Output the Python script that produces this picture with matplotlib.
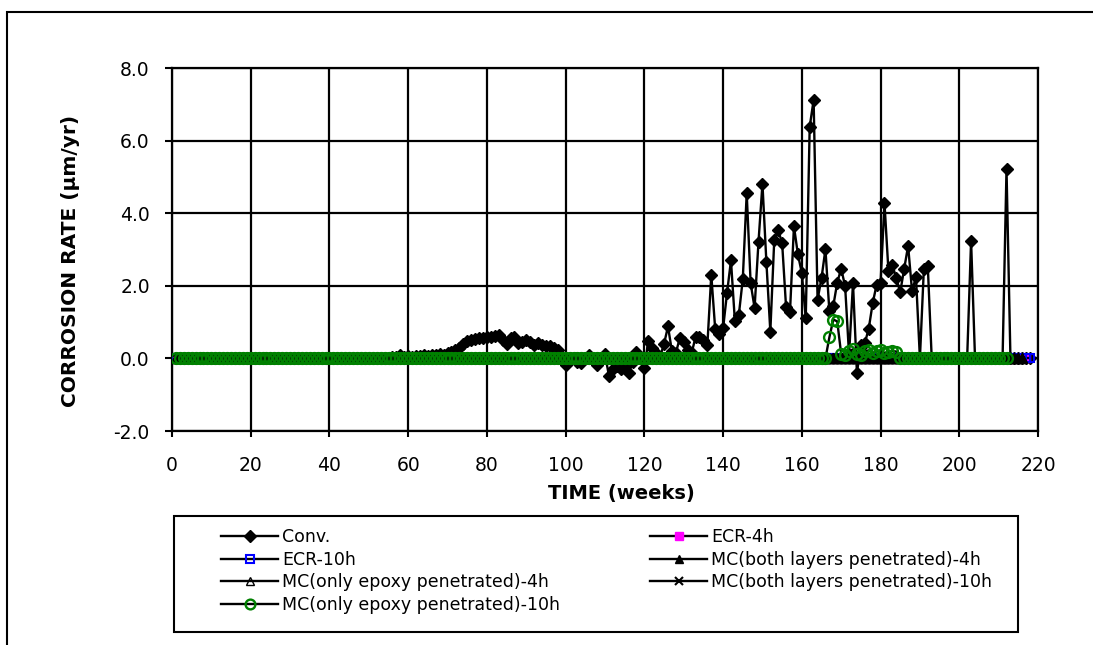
import matplotlib
matplotlib.use("Agg")
import matplotlib.pyplot as plt
from matplotlib.patches import Rectangle

# ---------------- data ----------------
conv_weeks = list(range(1, 219))
conv_rate = [
    # 1-10
    0.00, 0.00, 0.00, 0.00, 0.00, 0.00, 0.00, 0.00, 0.00, 0.00,
    # 11-20
    0.00, 0.00, 0.00, 0.00, 0.01, 0.00, 0.00, 0.00, 0.00, 0.00,
    # 21-30
    0.00, 0.00, 0.00, 0.00, 0.00, 0.00, 0.00, 0.00, 0.00, 0.00,
    # 31-40
    0.00, 0.00, 0.00, 0.00, 0.00, 0.00, 0.00, 0.00, 0.00, 0.00,
    # 41-50
    0.00, 0.00, 0.00, 0.00, 0.00, 0.00, 0.00, 0.00, 0.00, 0.01,
    # 51-60
    0.00, 0.01, 0.00, 0.01, 0.02, 0.03, 0.05, 0.08, 0.05, 0.06,
    # 61-70
    0.05, 0.07, 0.06, 0.08, 0.07, 0.08, 0.10, 0.12, 0.10, 0.14,
    # 71-80
    0.18, 0.22, 0.30, 0.40, 0.47, 0.50, 0.54, 0.56, 0.55, 0.60,
    # 81-90
    0.58, 0.62, 0.65, 0.50, 0.40, 0.55, 0.60, 0.42, 0.45, 0.52,
    # 91-100
    0.45, 0.38, 0.42, 0.38, 0.35, 0.33, 0.30, 0.24, -0.05, -0.17,
    # 101-110
    -0.05, 0.00, -0.10, -0.13, 0.02, 0.10, -0.05, -0.17, 0.00, 0.12,
    # 111-120
    -0.48, -0.30, -0.20, -0.30, -0.25, -0.40, -0.10, 0.19, 0.05, -0.27,
    # 121-130
    0.49, 0.28, 0.15, 0.05, 0.40, 0.88, 0.20, 0.15, 0.56, 0.45,
    # 131-140
    0.24, 0.15, 0.58, 0.60, 0.50, 0.36, 2.30, 0.80, 0.66, 0.83,
    # 141-150
    1.80, 2.70, 1.02, 1.20, 2.18, 4.55, 2.07, 1.39, 3.22, 4.81,
    # 151-160
    2.65, 0.74, 3.27, 3.53, 3.18, 1.41, 1.29, 3.64, 2.87, 2.35,
    # 161-170
    1.10, 6.38, 7.12, 1.62, 2.21, 3.01, 1.30, 1.45, 2.09, 2.47,
    # 171-180
    1.99, 0.10, 2.07, -0.40, 0.38, 0.42, 0.82, 1.52, 2.03, 2.07,
    # 181-190
    4.28, 2.42, 2.58, 2.21, 1.83, 2.47, 3.10, 1.86, 2.24, 0.00,
    # 191-200
    2.46, 2.55, 0.00, 0.00, 0.00, 0.00, 0.00, 0.00, 0.00, 0.00,
    # 201-210
    0.00, 0.00, 3.24, 0.00, 0.00, 0.00, 0.00, 0.00, 0.00, 0.00,
    # 211-218
    0.00, 5.22, 0.00, 0.00, 0.00, 0.00, 0.00, 0.00,
]

ecr4_weeks = list(range(1, 218))
ecr4_rate = [0.0 for _ in ecr4_weeks]
ecr10_weeks = list(range(1, 219))
ecr10_rate = [0.0 for _ in ecr10_weeks]
mcboth4_weeks = list(range(1, 217))
mcboth4_rate = [0.0 for _ in mcboth4_weeks]
mconly4_weeks = list(range(1, 217))
mconly4_rate = [0.0 for _ in mconly4_weeks]
mcboth10_weeks = list(range(1, 215))
mcboth10_rate = [0.0 for _ in mcboth10_weeks]

mconly10_weeks = list(range(1, 213))
mconly10_bump = {167: 0.58, 168: 1.07, 169: 1.02, 170: 0.12, 171: 0.10,
                 172: 0.20, 173: 0.25, 174: 0.12, 175: 0.08, 176: 0.20,
                 177: 0.22, 178: 0.15, 179: 0.20, 180: 0.22, 181: 0.15,
                 182: 0.18, 183: 0.20, 184: 0.19}
mconly10_rate = [mconly10_bump.get(w, 0.0) for w in mconly10_weeks]

labels = ["Conv.", "ECR-4h", "ECR-10h", "MC(both layers penetrated)-4h",
          "MC(only epoxy penetrated)-4h", "MC(both layers penetrated)-10h",
          "MC(only epoxy penetrated)-10h"]

x_ticks = list(range(0, 221, 20))
y_ticks = [-2.0, 0.0, 2.0, 4.0, 6.0, 8.0]

# ---------------- figure ----------------
W, H = 1093, 645
plt.rcParams['font.family'] = ['DejaVu Sans']
fig = plt.figure(figsize=(W / 100, H / 100), dpi=100)
ax = fig.add_axes([172 / W, 1 - 431 / H, (1038 - 172) / W, (431 - 68) / H])

lw = 1.7
h_conv, = ax.plot(conv_weeks, conv_rate, color='black', lw=lw, marker='D',
                  ms=6.3, mfc='black', mec='black', label=labels[0], zorder=3)
h_ecr4, = ax.plot(ecr4_weeks, ecr4_rate, color='black', lw=lw, marker='s',
                  ms=6, mfc='#FF00FF', mec='#FF00FF', label=labels[1], zorder=3)
h_ecr10, = ax.plot(ecr10_weeks, ecr10_rate, color='black', lw=lw, marker='s',
                   ms=6, mfc='none', mec='#0000FF', mew=1.5, label=labels[2], zorder=3)
h_b4, = ax.plot(mcboth4_weeks, mcboth4_rate, color='black', lw=lw, marker='^',
                ms=7, mfc='black', mec='black', label=labels[3], zorder=3)
h_o4, = ax.plot(mconly4_weeks, mconly4_rate, color='black', lw=lw, marker='^',
                ms=7, mfc='none', mec='black', label=labels[4], zorder=3)
h_b10, = ax.plot(mcboth10_weeks, mcboth10_rate, color='black', lw=lw, marker='x',
                 ms=6, mec='black', mew=1.5, label=labels[5], zorder=3)
h_o10, = ax.plot(mconly10_weeks, mconly10_rate, color='black', lw=lw, marker='o',
                 ms=7.8, mfc='none', mec='#008000', mew=1.7, label=labels[6], zorder=3)

ax.set_xlim(0, 220)
ax.set_ylim(-2, 8)
ax.set_xticks(x_ticks)
ax.set_yticks(y_ticks)
ax.set_yticklabels([f"{v:.1f}" for v in y_ticks])
ax.grid(True, color='black', lw=1.6, zorder=0)
ax.set_axisbelow(True)
for s in ax.spines.values():
    s.set_linewidth(1.6)
ax.tick_params(axis='both', labelsize=13.5, width=1.5, direction='out')
ax.tick_params(axis='x', length=4, pad=14)
ax.tick_params(axis='y', length=5, pad=11)

ax.set_xlabel("TIME (weeks)", fontsize=14, fontweight='bold')
ax.xaxis.set_label_coords((621 - 172) / 866, (431 - 484) / 363)
ax.set_ylabel("CORROSION RATE (\u00b5m/yr)", fontsize=14.5, fontweight='bold')
ax.yaxis.set_label_coords((80 - 172) / 866, (431 - 261) / 363)

# legend frame
fig.patches.append(Rectangle((174 / W, 1 - 632 / H), (1018 - 174) / W, (632 - 516) / H,
                             transform=fig.transFigure, fill=False,
                             edgecolor='black', lw=1.5))

col1 = [h_conv, h_ecr10, h_o4, h_o10]
col2 = [h_ecr4, h_b4, h_b10]
leg_kw = dict(loc='upper left', frameon=False, prop={'size': 12.5},
              handlelength=3.3, handletextpad=0.2, labelspacing=0.27,
              borderpad=0, borderaxespad=0, markerscale=0.9)
fig.legend(col1, [h.get_label() for h in col1],
           bbox_to_anchor=(221 / W, 1 - 528 / H), **leg_kw)
fig.legend(col2, [h.get_label() for h in col2],
           bbox_to_anchor=(650 / W, 1 - 528 / H), **leg_kw)

# outer chart frame (right and bottom edges fall outside the image)
fig.patches.append(Rectangle((7 / W, -0.5), 2, 1.5 - 12 / H, transform=fig.transFigure,
                             fill=False, edgecolor='black', lw=1.5))

fig.savefig("out.png", dpi=100)
